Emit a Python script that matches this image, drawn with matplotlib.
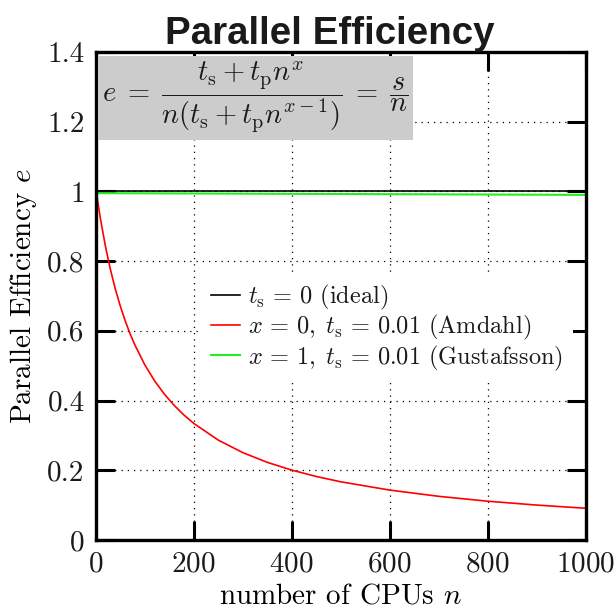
import numpy as np
import matplotlib
matplotlib.use("Agg")
import matplotlib.pyplot as plt

# efficiency values, e = (ts + tp*n^x) / (n*(ts + tp*n^(x-1))), ts = 0.01
n_cpus = [1, 5, 10, 20, 30, 40, 50, 60, 70, 80, 100, 120, 140, 160, 180,
          200, 250, 300, 350, 400, 450, 500, 600, 700, 800, 900, 1000]
e_amdahl = [1.0, 0.9615, 0.9174, 0.8403, 0.7752, 0.7194, 0.6711, 0.6289,
            0.5917, 0.5587, 0.5025, 0.4566, 0.4184, 0.3861, 0.3584, 0.3344,
            0.2865, 0.2506, 0.2227, 0.2004, 0.1821, 0.1669, 0.1431, 0.1252,
            0.1112, 0.1001, 0.0910]
n_gus = [1, 2, 1000]
e_gus = [1.0, 0.995, 0.99]
n_ideal = [0, 1000]
e_ideal = [1.0, 1.0]

xticks = [0, 200, 400, 600, 800, 1000]
yticks = [0, 0.2, 0.4, 0.6, 0.8, 1.0, 1.2, 1.4]
ylabels = ["0", "0.2", "0.4", "0.6", "0.8", "1", "1.2", "1.4"]

plt.rcParams["font.family"] = ["cmr10"]
plt.rcParams["mathtext.fontset"] = "cm"
plt.rcParams["axes.formatter.use_mathtext"] = True
plt.rcParams["text.color"] = "#1a1a1a"
plt.rcParams["xtick.labelcolor"] = "#1a1a1a"
plt.rcParams["ytick.labelcolor"] = "#1a1a1a"

fig = plt.figure(figsize=(6.14, 6.15), dpi=100)
ax = fig.add_axes([0.156, 0.122, 0.798, 0.7935])

ax.plot(n_ideal, e_ideal, color="black", lw=1.2,
        label=r"$t_\mathrm{s} \,=\, 0$ (ideal)")
ax.plot(n_cpus, e_amdahl, color="red", lw=1.2,
        label=r"$x \,=\, 0,\; t_\mathrm{s} \,=\, 0.01$ (Amdahl)")
ax.plot(n_gus, e_gus, color="#22ee22", lw=1.5,
        label=r"$x \,=\, 1,\; t_\mathrm{s} \,=\, 0.01$ (Gustafsson)")

ax.set_xlim(0, 1000)
ax.set_ylim(0, 1.4)
ax.set_xticks(xticks)
ax.set_yticks(yticks)
ax.set_yticklabels(ylabels)
ax.tick_params(direction="in", length=14, width=2.2, labelsize=21,
               top=True, right=True, pad=8)
for sp in ax.spines.values():
    sp.set_linewidth(2.4)

ax.grid(True, color="black", lw=0.9, linestyle=(0, (1, 4)))

ax.set_xlabel(r"number of CPUs $n$", fontsize=21, labelpad=4)
ax.set_ylabel(r"Parallel Efficiency $e$", fontsize=21, labelpad=6)
ax.set_title("Parallel Efficiency", family="Liberation Sans",
             fontweight="bold", fontsize=27.7, pad=6, color="#1a1a1a",
             x=0.478)

ax.text(0.013, 0.984,
        r"$e \;=\; \dfrac{t_\mathrm{s} + t_\mathrm{p} n^x}"
        r"{n(t_\mathrm{s} + t_\mathrm{p} n^{x-1})} \;=\; \dfrac{s}{n}$",
        transform=ax.transAxes, fontsize=20.5, va="top", ha="left",
        bbox=dict(facecolor="#cccccc", edgecolor="none", pad=3), zorder=5)

# white box without an outline, hides the grid behind the entries
leg = ax.legend(loc="upper left", bbox_to_anchor=(0.19, 0.572),
                frameon=True, fancybox=False, framealpha=1,
                facecolor="white", edgecolor="none", fontsize=17.5,
                handlelength=1.2, handletextpad=0.35, labelspacing=0.05)

fig.savefig("out.png", dpi=100)
